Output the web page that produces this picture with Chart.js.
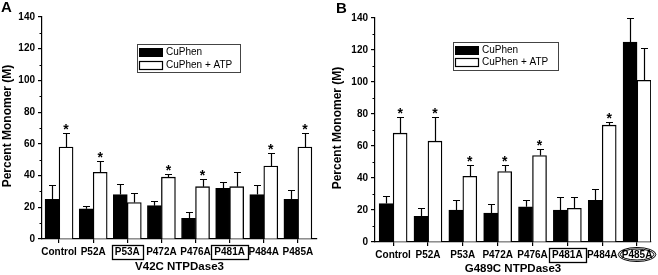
<!DOCTYPE html>
<html><head><meta charset="utf-8">
<script src="https://cdn.jsdelivr.net/npm/chart.js@4/dist/chart.umd.min.js"></script>
<style>
html,body{margin:0;padding:0;background:#fff;overflow:hidden}
#wrap{position:relative;width:658px;height:275px;background:#fff}
canvas{position:absolute;top:0}
</style></head>
<body><div id="wrap">
<canvas id="chartA" width="329" height="275" style="left:0"></canvas>
<canvas id="chartB" width="329" height="275" style="left:329px"></canvas>
</div>
<script>
// ---------- data ----------
const categories = ['Control','P52A','P53A','P472A','P476A','P481A','P484A','P485A'];
const yTicks = [0,20,40,60,80,100,120,140];
const yMinorTicks = [10,30,50,70,90,110,130];
const seriesNames = ['CuPhen','CuPhen + ATP'];

const aCuPhen       = [25,19,28,21,13,32,28,25];
const aCuPhenErr    = [34,21,35,24,17,36,34,31];
const aCuPhenATP    = [58,42,23,39,33,33,46,58];
const aCuPhenATPErr = [67,49,29,41,38,42,54,67];
const aStars        = [1,1,0,1,1,0,1,1];
const aBoxed        = ['P53A','P481A'];
const aCircled      = [];

const bCuPhen       = [24,16,20,18,22,20,26,125];
const bCuPhenErr    = [29,21,26,24,26,28,33,140];
const bCuPhenATP    = [68,63,41,44,54,21,73,101];
const bCuPhenATPErr = [78,78,48,48,58,28,75,121];
const bStars        = [1,1,1,1,1,0,1,0];
const bBoxed        = ['P481A'];
const bCircled      = ['P485A'];

const FONT = "'Liberation Sans', Arial, sans-serif";

function decor(o){
  return {
    id:'decor',
    afterDraw(chart){
      const c = chart.ctx, xs = chart.scales.x, ys = chart.scales.y;
      c.save();
      c.strokeStyle = '#000'; c.fillStyle = '#000';
      // minor y ticks
      c.lineWidth = 1.2;
      c.beginPath();
      yMinorTicks.forEach(v=>{
        const y = Math.round(ys.getPixelForValue(v)) + 0.5;
        c.moveTo(chart.chartArea.left - 2.5, y); c.lineTo(chart.chartArea.left, y);
      });
      c.stroke();
      // error bars + stars
      [[0,o.black,o.blackErr,null],[1,o.white,o.whiteErr,o.stars]].forEach(([d,vals,errs,stars])=>{
        const meta = chart.getDatasetMeta(d);
        meta.data.forEach((bar,i)=>{
          const x = Math.round(bar.x) + 0.5;
          const y0 = ys.getPixelForValue(vals[i]);
          const y1 = Math.round(ys.getPixelForValue(errs[i])) + 0.5;
          c.lineWidth = 1.2;
          c.beginPath();
          c.moveTo(x, y0); c.lineTo(x, y1);
          c.moveTo(x - 3.5, y1); c.lineTo(x + 3.5, y1);
          c.stroke();
          if (stars && stars[i]) {
            c.font = 'bold 14px ' + FONT;
            c.textAlign = 'center'; c.textBaseline = 'alphabetic';
            c.fillText('*', bar.x, y1 + 0.5);
          }
        });
      });
      // boxed / circled tick labels
      c.font = 'bold 10px ' + FONT;
      const labY = xs.top + o.labOff;
      categories.forEach((cat,i)=>{
        const cx = xs.getPixelForValue(i);
        const w = c.measureText(cat).width;
        if (o.boxed.includes(cat)) {
          c.lineWidth = 1.3;
          c.strokeRect(Math.round(cx - w/2 - 3) + 0.5, Math.round(labY - 7) + 0.5, Math.round(w + 6), 14);
        }
        if (o.circled.includes(cat)) {
          c.lineWidth = 1;
          c.beginPath(); c.ellipse(cx, labY, w/2 + 3.5, 7, 0, 0, Math.PI*2); c.stroke();
          c.beginPath(); c.ellipse(cx, labY, w/2 + 1.5, 5.5, 0, 0, Math.PI*2); c.stroke();
        }
      });
      // axis titles
      c.fillStyle = '#000';
      c.font = 'bold 11.5px ' + FONT;
      c.textAlign = 'center'; c.textBaseline = 'middle';
      c.fillText(o.xTitle, (chart.chartArea.left + chart.chartArea.right)/2, o.xTitleY);
      c.save();
      c.translate(o.yTitleX, o.yTitleY); c.rotate(-Math.PI/2);
      c.font = 'bold 12px ' + FONT;
      c.fillText('Percent Monomer (M)', 0, 0);
      c.restore();
      // panel letter
      c.font = 'bold 15px ' + FONT;
      c.textAlign = 'left'; c.textBaseline = 'top';
      c.fillText(o.letter, o.letterX, o.letterY);
      // legend
      const L = o.legend;
      c.lineWidth = 1; c.strokeStyle = '#444';
      c.strokeRect(L.x + 0.5, L.y + 0.5, L.w, L.h);
      c.strokeStyle = '#000';
      c.fillStyle = '#000';
      c.fillRect(L.x + 2, L.y + 4, 24, 9);
      c.fillStyle = '#fff';
      c.fillRect(L.x + 2, L.y + 4 + L.gap, 24, 9);
      c.lineWidth = 1.2;
      c.strokeRect(L.x + 2.5, L.y + 4.5 + L.gap, 23, 8);
      c.fillStyle = '#000';
      c.font = '10px ' + FONT;
      c.textBaseline = 'middle';
      c.fillText(seriesNames[0], L.x + 29, L.y + 8.5);
      c.fillText(seriesNames[1], L.x + 29, L.y + 8.5 + L.gap);
      c.restore();
    }
  };
}

function buildChart(id, o){
  const axisCommon = {
    grid:{display:true, drawOnChartArea:false, drawTicks:true, tickLength:4, color:'#000', lineWidth:1.2, offset:false},
    border:{display:true, color:'#000', width:1.2}
  };
  return new Chart(document.getElementById(id), {
    type:'bar',
    data:{
      datasets:[
        {label:seriesNames[0], data:o.black.map((v,i)=>({x:i,y:v})), backgroundColor:'#000', borderColor:'#000', borderWidth:1, barThickness:14},
        {label:seriesNames[1], data:o.white.map((v,i)=>({x:i,y:v})), backgroundColor:'#fff', borderColor:'#000', borderWidth:1.3, barThickness:14}
      ]
    },
    options:{
      responsive:false, animation:false, devicePixelRatio:1,
      layout:{padding:{top:o.top, right:o.right, left:0, bottom:0}},
      plugins:{legend:{display:false}, tooltip:{enabled:false}},
      scales:{
        x:Object.assign({
          type:'linear', min:o.xmin, max:o.xmax, offset:false,
          afterBuildTicks:s=>{ s.ticks = categories.map((c,i)=>({value:i})); },
          afterFit:s=>{ s.height = o.xh; },
          ticks:{autoSkip:false, maxRotation:0, minRotation:0, padding:3, color:'#000',
                 font:{family:FONT, size:10, weight:'bold'}, callback:v=>categories[v]}
        }, axisCommon),
        y:Object.assign({
          type:'linear', min:0, max:140,
          afterBuildTicks:s=>{ s.ticks = yTicks.map(v=>({value:v})); },
          afterFit:s=>{ s.width = o.yw; },
          ticks:{padding:3, color:'#000', font:{family:FONT, size:10, weight:'bold'}}
        }, axisCommon)
      }
    },
    plugins:[decor(o)]
  });
}

buildChart('chartA', {
  black:aCuPhen, blackErr:aCuPhenErr, white:aCuPhenATP, whiteErr:aCuPhenATPErr, stars:aStars,
  boxed:aBoxed, circled:aCircled,
  top:17, right:12, yw:42, xh:36, xmin:-0.5, xmax:7.56, labOff:12.5,
  xTitle:'V42C NTPDase3', xTitleY:266.5, yTitleX:8, yTitleY:126,
  letter:'A', letterX:1, letterY:0,
  legend:{x:137, y:44, w:103, h:28, gap:13}
});
buildChart('chartB', {
  black:bCuPhen, blackErr:bCuPhenErr, white:bCuPhenATP, whiteErr:bCuPhenATPErr, stars:bStars,
  boxed:bBoxed, circled:bCircled,
  top:18, right:7, yw:46, xh:33, xmin:-0.52, xmax:7.4, labOff:12.5,
  xTitle:'G489C NTPDase3', xTitleY:269, yTitleX:9, yTitleY:128,
  letter:'B', letterX:7, letterY:1,
  legend:{x:124, y:42, w:105, h:28, gap:12}
});
</script>
</body></html>
